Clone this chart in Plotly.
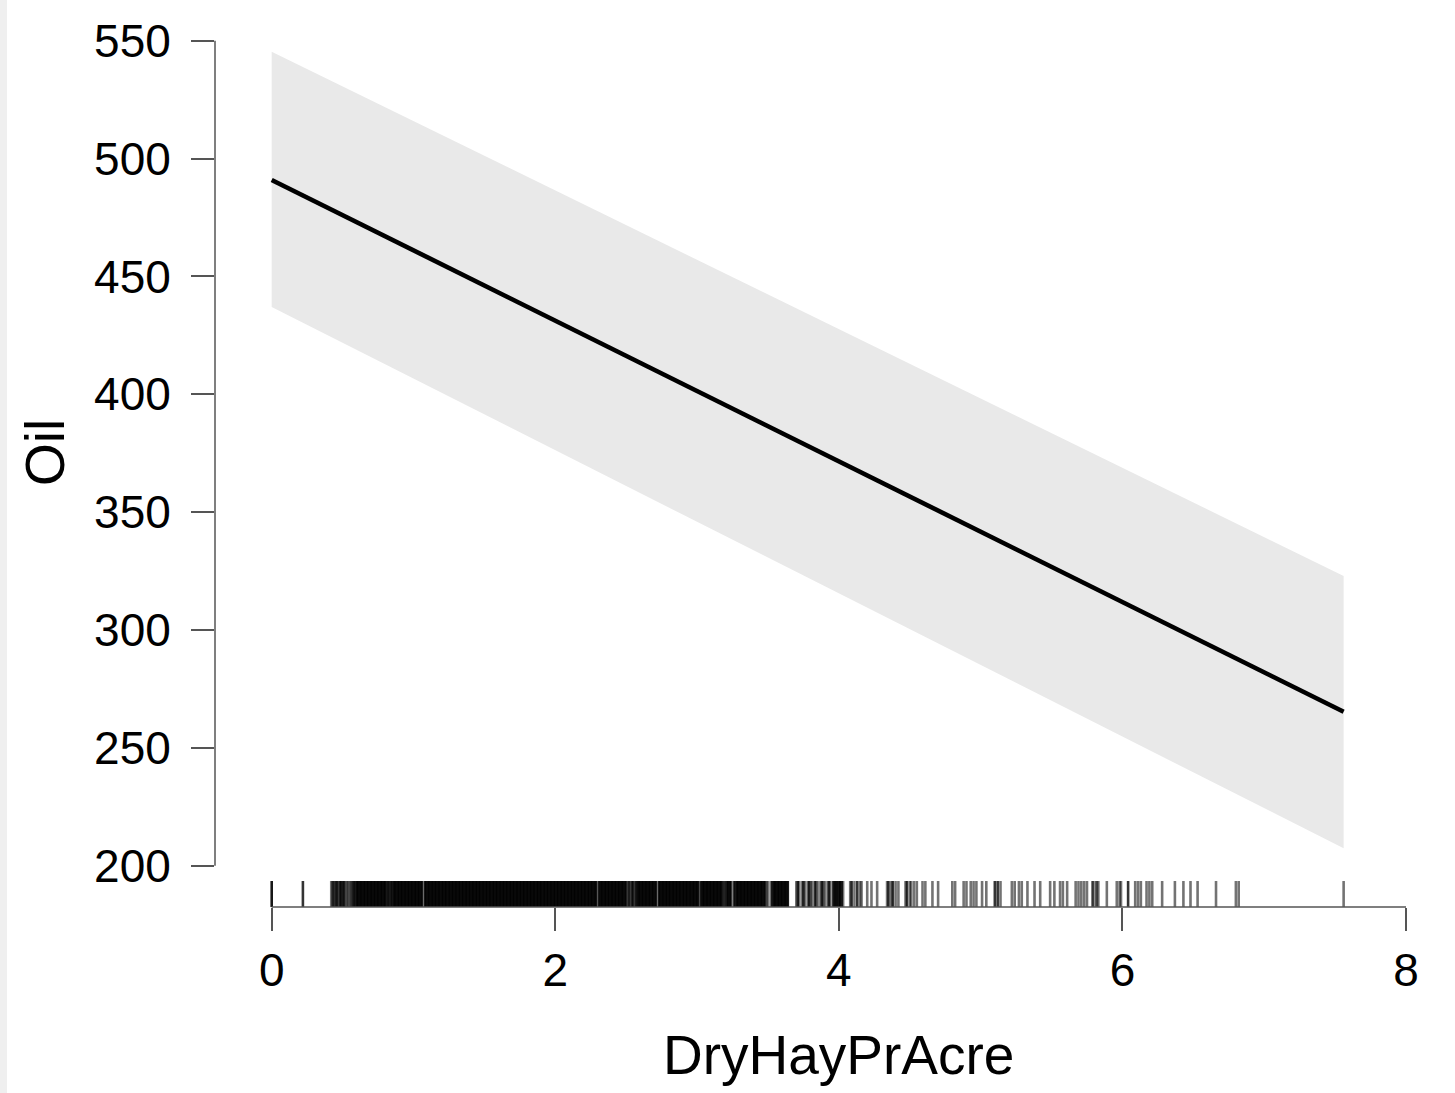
import plotly.graph_objects as go

# Fitted line and confidence band for Oil vs DryHayPrAcre
x_fit = [0.0, 7.56]
y_fit = [490.9, 265.3]
y_upper = [545.3, 322.9]
y_lower = [437.0, 207.4]

x_ticks = [0, 2, 4, 6, 8]
y_ticks = [200, 250, 300, 350, 400, 450, 500, 550]

# Observed DryHayPrAcre values (distinct) and number of observations at each
rug_x = [
    0.00, 0.22,
    0.42, 0.43, 0.44, 0.45, 0.46, 0.47, 0.48, 0.49,
    0.50, 0.51, 0.52, 0.53, 0.54, 0.55, 0.56, 0.57, 0.58, 0.59,
    0.60, 0.61, 0.62, 0.63, 0.64, 0.65, 0.66, 0.67, 0.68, 0.69,
    0.70, 0.71, 0.72, 0.73, 0.74, 0.75, 0.76, 0.77, 0.78, 0.79,
    0.80, 0.81, 0.82, 0.83, 0.84, 0.85, 0.86, 0.87, 0.88, 0.89,
    0.90, 0.91, 0.92, 0.93, 0.94, 0.95, 0.96, 0.97, 0.98, 0.99,
    1.00, 1.01, 1.02, 1.03, 1.04, 1.05, 1.06, 1.08, 1.09,
    1.10, 1.11, 1.12, 1.13, 1.14, 1.15, 1.16, 1.17, 1.18, 1.19,
    1.20, 1.21, 1.22, 1.23, 1.24, 1.25, 1.26, 1.27, 1.28, 1.29,
    1.30, 1.31, 1.32, 1.33, 1.34, 1.35, 1.36, 1.37, 1.38, 1.39,
    1.40, 1.41, 1.42, 1.43, 1.44, 1.45, 1.46, 1.47, 1.48, 1.49,
    1.50, 1.51, 1.52, 1.53, 1.54, 1.55, 1.56, 1.57, 1.58, 1.59,
    1.60, 1.61, 1.62, 1.63, 1.64, 1.65, 1.66, 1.67, 1.68, 1.69,
    1.70, 1.71, 1.72, 1.73, 1.74, 1.75, 1.76, 1.77, 1.78, 1.79,
    1.80, 1.81, 1.82, 1.83, 1.84, 1.85, 1.86, 1.87, 1.88, 1.89,
    1.90, 1.91, 1.92, 1.93, 1.94, 1.95, 1.96, 1.97, 1.98, 1.99,
    2.00, 2.01, 2.02, 2.03, 2.04, 2.05, 2.06, 2.07, 2.08, 2.09,
    2.10, 2.11, 2.12, 2.13, 2.14, 2.15, 2.16, 2.17, 2.18, 2.19,
    2.20, 2.21, 2.22, 2.23, 2.24, 2.25, 2.26, 2.27, 2.28, 2.29,
    2.31, 2.32, 2.33, 2.34, 2.35, 2.36, 2.37, 2.38, 2.39,
    2.40, 2.41, 2.42, 2.43, 2.44, 2.45, 2.46, 2.47, 2.48, 2.49,
    2.50, 2.51, 2.52, 2.53, 2.54, 2.55, 2.56, 2.57, 2.58, 2.59,
    2.60, 2.61, 2.62, 2.63, 2.64, 2.65, 2.66, 2.67, 2.68, 2.69,
    2.70, 2.71, 2.73, 2.74, 2.75, 2.76, 2.77, 2.78, 2.79,
    2.80, 2.81, 2.82, 2.83, 2.84, 2.85, 2.86, 2.87, 2.88, 2.89,
    2.90, 2.91, 2.92, 2.93, 2.94, 2.95, 2.96, 2.97, 2.98, 2.99,
    3.00, 3.01, 3.03, 3.04, 3.05, 3.06, 3.07, 3.08, 3.09,
    3.10, 3.11, 3.12, 3.13, 3.14, 3.15, 3.16, 3.17, 3.18, 3.19,
    3.20, 3.21, 3.22, 3.23, 3.24, 3.26, 3.27, 3.28, 3.29,
    3.30, 3.31, 3.32, 3.33, 3.34, 3.35, 3.36, 3.37, 3.38, 3.39,
    3.40, 3.41, 3.42, 3.43, 3.44, 3.45, 3.46, 3.47, 3.48, 3.49,
    3.50, 3.52, 3.53, 3.54, 3.55, 3.56, 3.57, 3.58, 3.59,
    3.60, 3.61, 3.62, 3.63, 3.64,
    3.70, 3.71, 3.72, 3.74, 3.75, 3.76, 3.78, 3.79,
    3.80, 3.81, 3.83, 3.84, 3.85, 3.87, 3.88, 3.89,
    3.90, 3.92, 3.93, 3.94, 3.96, 3.97, 3.98, 3.99,
    4.00, 4.01, 4.02, 4.03, 4.08, 4.09,
    4.11, 4.13, 4.15, 4.16,
    4.20, 4.23, 4.27,
    4.34, 4.35, 4.37, 4.38,
    4.40, 4.42, 4.47, 4.48,
    4.50, 4.51, 4.53, 4.55, 4.59,
    4.61, 4.66,
    4.70,
    4.80, 4.82, 4.88,
    4.90, 4.93, 4.95, 4.97,
    5.01, 5.04,
    5.10, 5.12, 5.14,
    5.22, 5.24, 5.27, 5.29,
    5.33, 5.38,
    5.42, 5.49,
    5.52, 5.56, 5.58,
    5.61, 5.67, 5.69,
    5.71, 5.73, 5.75, 5.79,
    5.81, 5.82, 5.83, 5.89,
    5.96, 5.98, 5.99,
    6.04, 6.09,
    6.11, 6.13, 6.17, 6.19,
    6.21, 6.28,
    6.37,
    6.43, 6.48,
    6.53,
    6.66,
    6.80, 6.82,
    7.56,
]
rug_n = [
    3, 2,
    1, 2, 1, 2, 2, 1, 2, 2,
    2, 2, 1, 1, 1, 1, 1, 2, 2, 2,
    3, 3, 3, 3, 3, 3, 3, 3, 3, 3,
    3, 3, 3, 3, 3, 3, 3, 3, 3, 3,
    3, 2, 2, 2, 2, 2, 3, 3, 3, 3,
    3, 3, 3, 3, 3, 3, 3, 3, 3, 3,
    3, 3, 3, 3, 3, 3, 3, 3, 3,
    3, 3, 3, 3, 3, 3, 3, 3, 3, 3,
    3, 3, 3, 3, 3, 3, 3, 3, 3, 3,
    3, 3, 3, 3, 3, 3, 3, 3, 3, 3,
    3, 3, 3, 3, 3, 3, 3, 3, 3, 3,
    3, 3, 3, 3, 3, 3, 3, 3, 3, 3,
    3, 3, 3, 3, 3, 3, 3, 3, 3, 3,
    3, 3, 3, 3, 3, 3, 3, 3, 3, 3,
    3, 3, 3, 3, 3, 3, 3, 3, 3, 3,
    3, 3, 3, 3, 3, 3, 3, 3, 3, 3,
    3, 3, 3, 3, 3, 3, 3, 3, 3, 3,
    3, 3, 3, 3, 3, 3, 3, 3, 3, 3,
    3, 3, 3, 3, 3, 3, 3, 3, 3, 3,
    3, 3, 3, 3, 3, 3, 3, 3, 3,
    3, 3, 3, 3, 3, 3, 3, 3, 3, 3,
    2, 1, 2, 1, 2, 2, 1, 2, 3, 3,
    3, 3, 3, 3, 3, 3, 3, 3, 3, 3,
    3, 3, 3, 3, 3, 3, 3, 3, 3,
    3, 3, 3, 3, 3, 3, 3, 3, 3, 3,
    3, 3, 3, 3, 3, 3, 3, 3, 3, 3,
    3, 3, 3, 3, 3, 3, 3, 3, 3,
    3, 3, 3, 3, 3, 3, 3, 3, 2, 1,
    2, 2, 3, 3, 2, 2, 2, 3, 3,
    3, 3, 3, 3, 3, 3, 3, 3, 3, 3,
    3, 3, 3, 3, 3, 3, 3, 3, 2, 1,
    1, 1, 2, 3, 3, 3, 3, 3, 3,
    3, 3, 3, 3, 3,
    1, 2, 1, 1, 2, 1, 1, 2,
    1, 1, 2, 1, 1, 1, 2, 1,
    1, 1, 2, 1, 2, 3, 2, 3,
    2, 3, 2, 1, 1, 2,
    1, 2, 1, 1,
    1, 1, 1,
    1, 2, 1, 2,
    1, 1, 1, 2,
    1, 1, 1, 1, 1,
    1, 1,
    1,
    1, 1, 1,
    1, 1, 1, 1,
    1, 1,
    2, 2, 1,
    1, 1, 1, 1,
    1, 1,
    1, 1,
    1, 1, 1,
    1, 1, 1,
    1, 1, 1, 2,
    1, 1, 1, 1,
    1, 1, 1,
    2, 1,
    1, 1, 1, 1,
    1, 1,
    1,
    1, 1,
    1,
    1,
    1, 1,
    1,
]
assert len(rug_x) == len(rug_n), (len(rug_x), len(rug_n))

FONT = "Liberation Sans, Arial, Helvetica, sans-serif"
AXIS_COL = "#555555"

fig = go.Figure()

# Confidence band
fig.add_trace(go.Scatter(
    x=x_fit + x_fit[::-1],
    y=y_upper + y_lower[::-1],
    fill="toself", fillcolor="#e9e9e9",
    line=dict(width=0), mode="lines", hoverinfo="skip",
))

# Fitted line
fig.add_trace(go.Scatter(
    x=x_fit, y=y_fit, mode="lines",
    line=dict(color="black", width=4.6),
))

shapes = []
# Rug: each observation adds a semi-transparent black tick
for v, n in zip(rug_x, rug_n):
    alpha = 1 - 0.45 ** n
    shapes.append(dict(type="line", xref="x", yref="paper",
                       x0=v, x1=v, y0=0, y1=0.0299,
                       line=dict(color=f"rgba(0,0,0,{alpha:.3f})", width=2.6)))

# Axis lines limited to the tick span
shapes.append(dict(type="line", xref="paper", yref="y",
                   x0=0, x1=0, y0=y_ticks[0], y1=y_ticks[-1],
                   line=dict(color=AXIS_COL, width=1.5)))
shapes.append(dict(type="line", xref="x", yref="paper",
                   x0=x_ticks[0], x1=x_ticks[-1], y0=0, y1=0,
                   line=dict(color=AXIS_COL, width=1.5)))

# Thin grey strip along the left edge of the page
W_PLOT, H_PLOT, L, T, B = 1205, 869, 215, 38, 186
shapes.append(dict(type="rect", xref="paper", yref="paper", layer="below",
                   x0=-L / W_PLOT, x1=(7 - L) / W_PLOT,
                   y0=-B / H_PLOT, y1=1 + T / H_PLOT,
                   fillcolor="#efefef", line=dict(width=0)))

fig.update_layout(
    width=1455, height=1093,
    margin=dict(l=L, r=35, t=T, b=B),
    plot_bgcolor="white", paper_bgcolor="white",
    showlegend=False,
    font=dict(family=FONT, color="black"),
    shapes=shapes,
    xaxis=dict(
        range=[-0.3999, 8.0986], tickvals=x_ticks, ticktext=[str(t) for t in x_ticks],
        ticks="outside", ticklen=23, tickwidth=1.5, tickcolor=AXIS_COL,
        showline=False, showgrid=False, zeroline=False,
        tickfont=dict(size=46, family=FONT, color="black"),
    ),
    yaxis=dict(
        range=[182.46, 551.15], tickvals=y_ticks, ticktext=[str(t) for t in y_ticks],
        ticks="outside", ticklen=23, tickwidth=1.5, tickcolor=AXIS_COL,
        showline=False, showgrid=False, zeroline=False, ticklabelstandoff=11,
        tickfont=dict(size=46, family=FONT, color="black"),
    ),
    annotations=[
        dict(text="DryHayPrAcre", xref="paper", yref="paper",
             x=(838 - L) / W_PLOT, y=-(1055 - 907) / H_PLOT,
             xanchor="center", yanchor="middle", showarrow=False,
             font=dict(size=55, family=FONT, color="black")),
        dict(text="Oil", xref="paper", yref="paper",
             x=(45 - L) / W_PLOT, y=(907 - 453) / H_PLOT,
             xanchor="center", yanchor="middle", showarrow=False, textangle=-90,
             font=dict(size=55, family=FONT, color="black")),
    ],
)

fig.write_html("out.html")
